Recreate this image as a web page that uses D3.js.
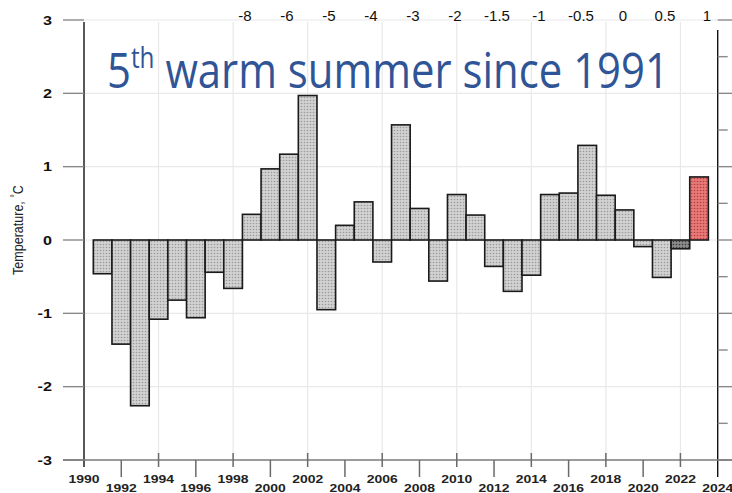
<!DOCTYPE html>
<html>
<head>
<meta charset="utf-8">
<script src="https://cdn.jsdelivr.net/npm/d3@7"></script>
<style>
  body { margin: 0; background: #fff; }
  svg { display: block; }
</style>
</head>
<body>
<div id="chart"></div>
<script>
const width = 732;
const height = 493;

// summer temperature anomaly, 1991-2023
const years = [1991, 1992, 1993, 1994, 1995, 1996, 1997, 1998, 1999, 2000,
  2001, 2002, 2003, 2004, 2005, 2006, 2007, 2008, 2009, 2010,
  2011, 2012, 2013, 2014, 2015, 2016, 2017, 2018, 2019, 2020,
  2021, 2022, 2023];
const anomalies = [-0.46, -1.42, -2.26, -1.08, -0.82, -1.06, -0.44, -0.66, 0.35, 0.97,
  1.17, 1.97, -0.95, 0.20, 0.52, -0.30, 1.57, 0.43, -0.56, 0.62,
  0.34, -0.36, -0.70, -0.48, 0.62, 0.64, 1.29, 0.61, 0.41, -0.09,
  -0.51, -0.12, 0.86];

const yTicks = [-3, -2, -1, 0, 1, 2, 3];
const yMinorTicks = [-2.5, -1.5, -0.5, 0.5, 1.5, 2.5];
const xTickYears = [1990, 1992, 1994, 1996, 1998, 2000, 2002, 2004, 2006, 2008,
  2010, 2012, 2014, 2016, 2018, 2020, 2022, 2024];
const gridYears = [1994, 1998, 2002, 2006, 2010, 2014, 2018, 2022];
const topLabels = ["-8", "-6", "-5", "-4", "-3", "-2", "-1.5", "-1", "-0.5", "0", "0.5", "1"];

const titleMain = "5";
const titleSup = "th";
const titleRest = " warm summer since 1991";

const svg = d3.select("#chart").append("svg")
  .attr("width", width)
  .attr("height", height);

const x = d3.scaleLinear().domain([1990, 2024]).range([84, 717.7]);
const y = d3.scaleLinear().domain([-3, 3]).range([460, 20]);
const xTop = d3.scalePoint().domain(topLabels).range([245, 707]);

// dotted fills for the bars
const defs = svg.append("defs");
function makePattern(id, base, dot) {
  const p = defs.append("pattern")
    .attr("id", id)
    .attr("width", 3).attr("height", 3)
    .attr("patternUnits", "userSpaceOnUse");
  p.append("rect").attr("width", 3).attr("height", 3).attr("fill", base);
  p.append("circle").attr("cx", 1.5).attr("cy", 1.5).attr("r", 0.8).attr("fill", dot);
}
makePattern("dots_grey", "#d2d2d2", "#9a9a9a");
makePattern("dots_dark", "#8a8a8a", "#3a3a3a");
makePattern("dots_red", "#e77a78", "#b73c3c");

const barFill = yr => yr === 2023 ? "url(#dots_red)" : yr === 2022 ? "url(#dots_dark)" : "url(#dots_grey)";

// grid
svg.append("g").selectAll("line")
  .data(yTicks.filter(d => d !== -3))
  .enter().append("line")
  .attr("x1", x(1990)).attr("x2", x(2024))
  .attr("y1", d => y(d)).attr("y2", d => y(d))
  .attr("stroke", "#e8e8e8").attr("stroke-width", 1.2);

svg.append("g").selectAll("line")
  .data(gridYears)
  .enter().append("line")
  .attr("x1", d => x(d)).attr("x2", d => x(d))
  .attr("y1", y(3) + 2).attr("y2", y(-3))
  .attr("stroke", "#e8e8e8").attr("stroke-width", 1.2);

// bars
const data = years.map((yr, i) => ({ year: yr, value: anomalies[i] }));
svg.append("g").selectAll("rect")
  .data(data)
  .enter().append("rect")
  .attr("x", d => x(d.year - 0.5))
  .attr("width", d => x(d.year + 0.5) - x(d.year - 0.5))
  .attr("y", d => y(Math.max(0, d.value)))
  .attr("height", d => Math.abs(y(d.value) - y(0)))
  .attr("fill", d => barFill(d.year))
  .attr("stroke", "#1a1a1a")
  .attr("stroke-width", 1.6);

// left axis
svg.append("line")
  .attr("x1", x(1990)).attr("x2", x(1990))
  .attr("y1", y(3) + 2).attr("y2", y(-3) + 7)
  .attr("stroke", "#111").attr("stroke-width", 1.4);

svg.append("g").selectAll("line")
  .data(yTicks)
  .enter().append("line")
  .attr("x1", 63).attr("x2", x(1990))
  .attr("y1", d => y(d)).attr("y2", d => y(d))
  .attr("stroke", "#8a8a8a").attr("stroke-width", 1.4);

svg.append("g").selectAll("text")
  .data(yTicks)
  .enter().append("text")
  .attr("transform", d => `translate(52, ${y(d) + 4.5}) scale(1.35, 1)`)
  .attr("text-anchor", "end")
  .attr("font-family", "Liberation Sans, Arial, sans-serif")
  .attr("font-weight", "bold")
  .attr("font-size", "12px")
  .attr("fill", "#111")
  .text(d => d);

// y label
const ylab = svg.append("text")
  .attr("transform", `translate(23, 230) rotate(-90)`)
  .attr("text-anchor", "middle")
  .attr("font-family", "Liberation Sans, Arial, sans-serif")
  .attr("font-size", "14px")
  .attr("fill", "#222");
ylab.append("tspan").text("Temperature, ");
ylab.append("tspan").attr("font-size", "10px").attr("dy", -5).text("°");
ylab.append("tspan").attr("dy", 5).text("C");
const lw = ylab.node().getComputedTextLength();
ylab.attr("transform", `translate(23, 230) rotate(-90) scale(${90 / lw}, 1)`);

// right axis
svg.append("line")
  .attr("x1", x(2024)).attr("x2", x(2024))
  .attr("y1", y(3) + 10).attr("y2", y(-3) + 17)
  .attr("stroke", "#111").attr("stroke-width", 1.4);

svg.append("g").selectAll("line")
  .data(yTicks)
  .enter().append("line")
  .attr("x1", x(2024)).attr("x2", width)
  .attr("y1", d => y(d)).attr("y2", d => y(d))
  .attr("stroke", "#8a8a8a").attr("stroke-width", 1.4);

svg.append("g").selectAll("line")
  .data(yMinorTicks)
  .enter().append("line")
  .attr("x1", x(2024)).attr("x2", x(2024) + 10)
  .attr("y1", d => y(d)).attr("y2", d => y(d))
  .attr("stroke", "#8a8a8a").attr("stroke-width", 1.4);

// bottom axis
svg.append("line")
  .attr("x1", 63).attr("x2", width)
  .attr("y1", y(-3)).attr("y2", y(-3))
  .attr("stroke", "#7a7a7a").attr("stroke-width", 1.5);

svg.append("g").selectAll("line")
  .data(xTickYears.slice(1, -1))
  .enter().append("line")
  .attr("x1", d => x(d)).attr("x2", d => x(d))
  .attr("y1", (d, i) => (i % 2 === 1) ? y(-3) - 7 : y(-3))
  .attr("y2", (d, i) => (i % 2 === 1) ? y(-3) + 7 : y(-3) + 17)
  .attr("stroke", "#6a6a6a").attr("stroke-width", 1.5);

svg.append("g").selectAll("text")
  .data(xTickYears)
  .enter().append("text")
  .attr("x", d => x(d))
  .attr("y", (d, i) => (i % 2 === 0) ? 483 : 492)
  .attr("text-anchor", "middle")
  .attr("font-family", "Liberation Sans, Arial, sans-serif")
  .attr("font-weight", "bold")
  .attr("font-size", "10px")
  .attr("textLength", 31)
  .attr("lengthAdjust", "spacingAndGlyphs")
  .attr("fill", "#222")
  .text(d => d);

// top labels
svg.append("g").selectAll("text")
  .data(topLabels)
  .enter().append("text")
  .attr("x", d => xTop(d))
  .attr("y", 21)
  .attr("text-anchor", "middle")
  .attr("font-family", "Liberation Sans, Arial, sans-serif")
  .attr("font-size", "15px")
  .attr("fill", "#111")
  .text(d => d);

// title
const title = svg.append("text")
  .attr("x", 0).attr("y", 0)
  .attr("font-family", "Open Sans, sans-serif")
  .attr("font-size", "50px")
  .attr("fill", "#2f5597");
title.append("tspan").text(titleMain);
title.append("tspan").attr("font-size", "29px").attr("dy", -20).text(titleSup);
title.append("tspan").attr("dy", 20).text(titleRest);

const tw = title.node().getComputedTextLength();
title.attr("transform", `translate(107, 88) scale(${562 / tw}, 1)`);
</script>
</body>
</html>
